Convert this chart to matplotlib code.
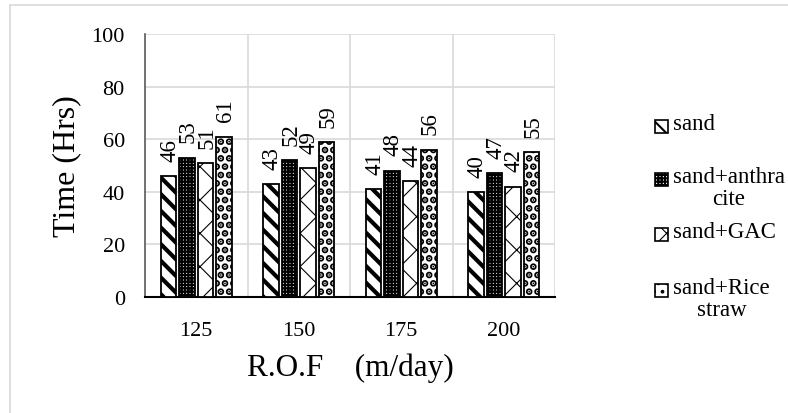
import matplotlib
matplotlib.use("Agg")
import matplotlib.pyplot as plt
import numpy as np
from matplotlib.patches import Rectangle
from matplotlib.lines import Line2D

plt.rcParams['font.family'] = ['Liberation Serif', 'DejaVu Serif']

# data
rof = ['125', '150', '175', '200']
series = ['sand', 'sand+anthra\ncite', 'sand+GAC', 'sand+Rice\nstraw']
sand = [46, 43, 41, 40]
anthracite = [53, 52, 48, 47]
gac = [51, 49, 44, 42]
rice_straw = [61, 59, 56, 55]

values = [sand, anthracite, gac, rice_straw]
hatches = ['\\\\', '+++++', 'x', '..']
hatch_lw = [3.0, 1.6, 0.8, 3.5]

W, H = 788, 414
fig = plt.figure(figsize=(W / 100, H / 100), dpi=100)

# light outer frame (top and left edges visible)
fig.add_artist(Line2D([10 / W, 10 / W], [0, 1 - 6 / H], transform=fig.transFigure,
                      color='#d9d9d9', linewidth=1.2))
fig.add_artist(Line2D([10 / W, 1], [1 - 6 / H, 1 - 6 / H], transform=fig.transFigure,
                      color='#d9d9d9', linewidth=1.2))

ax = fig.add_axes([145 / W, 1 - 298 / H, 410 / W, 263 / H])


def style_hatch(patch, lw):
    if hasattr(patch, 'set_hatch_linewidth'):
        patch.set_hatch_linewidth(lw)


x = np.arange(len(rof))
width = 0.152
pitch = 0.18
for i, (vals, h, hlw) in enumerate(zip(values, hatches, hatch_lw)):
    pos = x + (i - 1.5) * pitch
    with plt.rc_context({'hatch.linewidth': hlw}):
        bars = ax.bar(pos, vals, width, facecolor='white', edgecolor='black',
                      hatch=h, linewidth=1.3, zorder=3)
    for b, v in zip(bars, vals):
        style_hatch(b, hlw)
        ax.annotate(f'{v}', xy=(b.get_x() + b.get_width() / 2, v),
                    xytext=(1, 11), textcoords='offset points',
                    ha='center', va='bottom', rotation=90, fontsize=16.5)

ax.set_xlim(-0.5, 3.5)
ax.set_ylim(0, 100)
ax.set_yticks(range(0, 101, 20))
ax.set_xticks(x)
ax.set_xticklabels(rof)
ax.tick_params(axis='both', length=0, labelsize=16)
ax.tick_params(axis='y', pad=14.5)
ax.tick_params(axis='x', pad=17)

for yv in range(20, 101, 20):
    ax.axhline(yv, color='#d9d9d9', linewidth=1.2, zorder=0)
for xv in [0.5, 1.5, 2.5, 3.5]:
    ax.axvline(xv, color='#d9d9d9', linewidth=1.2, zorder=0)

for s in ['top', 'right']:
    ax.spines[s].set_visible(False)
ax.spines['left'].set_color('#595959')
ax.spines['left'].set_linewidth(1.2)
ax.spines['bottom'].set_color('black')
ax.spines['bottom'].set_linewidth(1.5)

ax.set_ylabel('Time (Hrs)', fontsize=23)
ax.yaxis.label.set_va('center')
ax.yaxis.set_label_coords(-0.19, 0.5)
ax.set_xlabel('R.O.F    (m/day)', fontsize=22.5)
ax.xaxis.set_label_coords(0.502, -0.212)

# legend, drawn by hand to follow the original spacing
legend_rows = [127, 180, 235, 291]
for label, h, hlw, yc in zip(series, hatches, hatch_lw, legend_rows):
    with plt.rc_context({'hatch.linewidth': min(hlw, 1.5)}):
        p = Rectangle((655 / W, 1 - (yc + 6.5) / H), 13 / W, 13 / H, transform=fig.transFigure,
                      facecolor='white', edgecolor='black', hatch=h, linewidth=1.2)
    style_hatch(p, min(hlw, 1.5))
    fig.add_artist(p)
    fig.text(673 / W, 1 - (yc - 13) / H, label, ha='left', va='top',
             multialignment='center', fontsize=16.5, linespacing=1.05)

fig.savefig('out.png', dpi=100)
